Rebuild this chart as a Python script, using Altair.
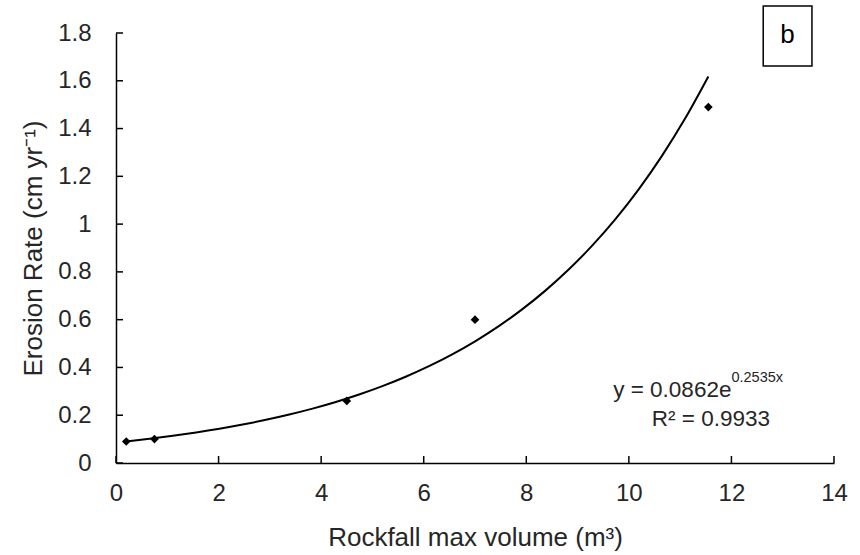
import altair as alt
import pandas as pd

# ---- data ----
volume = [0.2, 0.75, 4.5, 7.0, 11.55]
erosion = [0.09, 0.10, 0.26, 0.60, 1.49]
x_ticks = [0, 2, 4, 6, 8, 10, 12, 14]
y_ticks = [0, 0.2, 0.4, 0.6, 0.8, 1.0, 1.2, 1.4, 1.6, 1.8]
x_title = "Rockfall max volume (m³)"
y_title = "Erosion Rate (cm yr⁻¹)"
eq_main = "y = 0.0862e"
eq_exp = "0.2535x"
r2_text = "R² = 0.9933"
panel_label = "b"

FONT = "Liberation Sans"
TXT = "#262626"
W, H = 718, 430

df = pd.DataFrame({"volume": volume, "erosion": erosion})
xs = alt.Scale(domain=[0, 14], nice=False, zero=False)
ys = alt.Scale(domain=[0, 1.8], nice=False, zero=False)

base = alt.Chart(df)

points = base.mark_point(shape="diamond", filled=True, color="black",
                         size=75, opacity=1).encode(
    x=alt.X("volume:Q", scale=xs,
            axis=alt.Axis(values=x_ticks, title=x_title, titleX=W / 2, titleY=74,
                          titleBaseline="middle", labelPadding=18, labelFlush=False)),
    y=alt.Y("erosion:Q", scale=ys,
            axis=alt.Axis(values=y_ticks, format=".1~f", title=y_title,
                          titleX=-83, titleY=H / 2, titleBaseline="middle",
                          titleAngle=-90, labelPadding=25, labelFlush=False)),
)

# Excel-style exponential trendline: linear fit of ln(y) on x, then exp back
trend = (
    base.transform_calculate(lny="log(datum.erosion)")
    .transform_regression("volume", "lny", method="poly", order=1)
    .transform_calculate(fit="exp(datum.lny)")
    .mark_line(color="black", strokeWidth=2, interpolate="monotone", clip=False)
    .encode(x=alt.X("volume:Q", scale=xs), y=alt.Y("fit:Q", scale=ys))
)

xt = alt.Chart(pd.DataFrame({"t": x_ticks})).mark_rule(
    color="black", strokeWidth=1.5, y2Offset=-7).encode(
    x=alt.X("t:Q", scale=xs), y=alt.datum(0), y2=alt.datum(0))

yt = alt.Chart(pd.DataFrame({"t": y_ticks})).mark_rule(
    color="black", strokeWidth=1.5, x2Offset=7).encode(
    y=alt.Y("t:Q", scale=ys), x=alt.datum(0), x2=alt.datum(0))

ann = pd.DataFrame({"k": [0]})
eq1 = alt.Chart(ann).mark_text(font=FONT, fontSize=22.5, color=TXT, align="right",
                               baseline="alphabetic", text=eq_main).encode(
    x=alt.datum(12.0), y=alt.datum(0.276))
eq2 = alt.Chart(ann).mark_text(font=FONT, fontSize=14.5, color=TXT, align="left",
                               baseline="alphabetic", text=eq_exp).encode(
    x=alt.datum(12.0), y=alt.datum(0.337))
r2 = alt.Chart(ann).mark_text(font=FONT, fontSize=22.5, color=TXT, align="center",
                              baseline="alphabetic", text=r2_text).encode(
    x=alt.datum(11.6), y=alt.datum(0.155))

box = alt.Chart(ann).mark_rect(fill="white", stroke="black", strokeWidth=1.5,
                               clip=False).encode(
    x=alt.datum(12.62), x2=alt.datum(13.57), y=alt.datum(1.913), y2=alt.datum(1.662))
btxt = alt.Chart(ann).mark_text(font=FONT, fontSize=26, color="black", align="center",
                                baseline="middle", text=panel_label).encode(
    x=alt.datum(13.095), y=alt.datum(1.79))

chart = alt.layer(trend, points, xt, yt, eq1, eq2, r2, box, btxt).properties(
    width=W, height=H,
    background="white",
    autosize=alt.AutoSizeParams(type="none"),
    padding={"left": 116, "top": 33, "right": 26, "bottom": 92},
).configure_view(stroke=None).configure_axis(
    grid=False, ticks=False, tickSize=0, domainColor="black", domainWidth=1.5,
    labelFont=FONT, labelFontSize=24, labelColor=TXT,
    titleFont=FONT, titleFontSize=26, titleColor=TXT, titleFontWeight="normal",
)

chart.save("out.html", embed_options={"renderer": "svg", "actions": False})
